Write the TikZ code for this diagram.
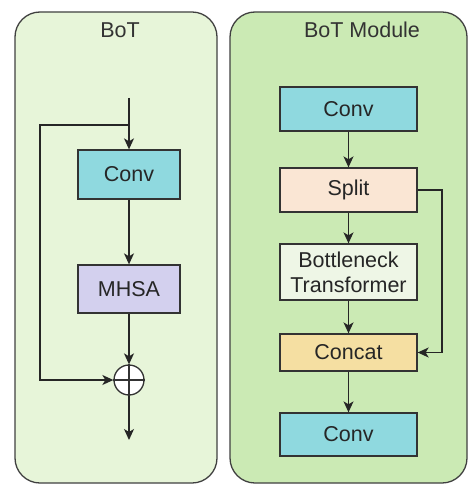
\documentclass[tikz,border=0pt]{standalone}
\usepackage{fontspec}
\setmainfont{Liberation Sans}
\usetikzlibrary{arrows.meta}
\definecolor{panelA}{HTML}{E7F5D9}
\definecolor{panelB}{HTML}{CBEAB4}
\definecolor{convc}{HTML}{8FD9DF}
\definecolor{mhsac}{HTML}{D3D0EE}
\definecolor{splitc}{HTML}{FAE6D4}
\definecolor{bneckc}{HTML}{EEF6E6}
\definecolor{catc}{HTML}{F5DFA2}
\begin{document}
\begin{tikzpicture}[x=1pt,y=-1pt,
  panel/.style={draw=black!75, line width=1.3pt, rounded corners=25pt},
  ttl/.style={font=\fontsize{21.5}{25}\selectfont, text=black!80},
  blk/.style={draw=black!80, line width=1.3pt, inner sep=0pt, align=center,
    font=\fontsize{21.5}{25}\selectfont, text=black!85},
  flow/.style={draw=black!85, line width=1.3pt, -{Stealth[length=11pt,width=10pt,inset=3pt]}},
  ]
\useasboundingbox (0,0) rectangle (470,486);

% panels
\path[panel, fill=panelA] (15,12) rectangle (217,483);
\path[panel, fill=panelB] (230,12) rectangle (467,483);
\node[ttl] (t1) at (120,30) {BoT};
\node[ttl] (t2) at (362,30) {BoT Module};

% BoT block
\node[blk, fill=convc, minimum width=102pt, minimum height=49pt] (lconv) at (129,174.5) {Conv};
\node[blk, fill=mhsac, minimum width=102pt, minimum height=48pt] (mhsa) at (129,289) {MHSA};
\node[circle, draw=black!80, line width=1.3pt, fill=white, minimum size=30pt, inner sep=0pt] (sum) at (129,380) {};
\draw[draw=black!80, line width=1.3pt] (sum.north) -- (sum.south) (sum.west) -- (sum.east);
\coordinate (in) at (129,98);
\coordinate (fork) at (129,125);
\coordinate (skipL) at (40,125);
\coordinate (out) at (129,440);
\draw[flow] (in) -- (lconv);
\draw[flow] (fork) -- (skipL) |- (sum);
\draw[flow] (lconv) -- (mhsa);
\draw[flow] (mhsa) -- (sum);
\draw[flow] (sum) -- (out);

% BoT module
\node[blk, fill=convc, minimum width=137pt, minimum height=44pt] (conv1) at (348.5,109) {Conv};
\node[blk, fill=splitc, minimum width=137pt, minimum height=44pt] (split) at (348.5,190) {Split};
\node[blk, fill=bneckc, minimum width=137pt, minimum height=56pt] (bneck) at (348.5,272) {Bottleneck\\Transformer};
\node[blk, fill=catc, minimum width=137pt, minimum height=37pt] (concat) at (348.5,352.5) {Concat};
\node[blk, fill=convc, minimum width=137pt, minimum height=43pt] (conv2) at (348.5,434.5) {Conv};
\coordinate (sideR) at (442,190);
\draw[flow] (conv1) -- (split);
\draw[flow] (split) -- (bneck);
\draw[flow] (bneck) -- (concat);
\draw[flow] (concat) -- (conv2);
\draw[flow] (split.east) -- (sideR) |- (concat.east);
\end{tikzpicture}
\end{document}
